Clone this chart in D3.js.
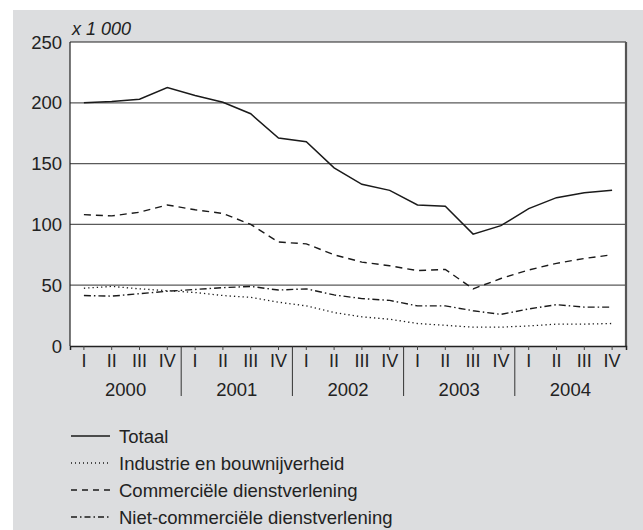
<!DOCTYPE html>
<html>
<head>
<meta charset="utf-8">
<script src="https://cdn.jsdelivr.net/npm/d3@7"></script>
<style>
  body { margin: 0; background: #fff; }
  svg { display: block; font-family: "Liberation Sans", Arial, sans-serif; }
</style>
</head>
<body>
<svg id="chart" width="643" height="530"></svg>
<script>
// data
var years = ["2000", "2001", "2002", "2003", "2004"];
var quarters = ["I", "II", "III", "IV"];
var yTicks = [0, 50, 100, 150, 200, 250];

var totaal = [200, 201, 203, 212.5, 206, 200.5, 191, 171, 168, 146.5, 133, 128, 116, 115, 92, 99, 113, 122, 126, 128];
var industrie = [47.5, 49, 47, 45.5, 44, 41.5, 40, 36, 33, 27.5, 24, 22, 18.5, 17, 15.5, 15.5, 16.5, 18, 18, 18.5];
var commercieel = [108, 107, 110, 116, 112, 109, 100, 85.5, 84, 75, 69, 66, 62, 63, 47, 55.5, 62.5, 68, 72, 75];
var nietCommercieel = [41.5, 41, 43, 45, 46.5, 48, 49, 46, 47, 42, 39, 37.5, 33, 33, 29, 26, 30.5, 34, 32, 32];

var series = [
  { name: "Totaal", values: totaal, dash: null, legendDash: null, width: 1.5 },
  { name: "Industrie en bouwnijverheid", values: industrie, dash: "1.3,3", legendDash: "1,3", width: 1.3 },
  { name: "Commerciële dienstverlening", values: commercieel, dash: "7,5", legendDash: "6,5", width: 1.4 },
  { name: "Niet-commerciële dienstverlening", values: nietCommercieel, dash: "7,3,1.5,3", legendDash: "6,3,1.5,3", width: 1.4 }
];

var periods = [];
years.forEach(function (yr) {
  quarters.forEach(function (q) { periods.push(yr + "-" + q); });
});

var svg = d3.select("#chart");

svg.append("rect")
  .attr("x", 13).attr("y", 10)
  .attr("width", 630).attr("height", 520)
  .attr("fill", "#dcdddf");

var plotL = 70, plotR = 626, plotT = 42, plotB = 346;

var x = d3.scaleBand().domain(periods).range([plotL, plotR]);
var y = d3.scaleLinear().domain([0, 250]).range([plotB, plotT]);

svg.append("rect")
  .attr("x", plotL).attr("y", plotT)
  .attr("width", plotR - plotL).attr("height", plotB - plotT)
  .attr("fill", "#fff");

// gridlines
svg.append("g")
  .selectAll("line")
  .data(yTicks.filter(function (d) { return d > 0 && d < 250; }))
  .enter()
  .append("line")
  .attr("x1", plotL).attr("x2", plotR)
  .attr("y1", function (d) { return y(d); })
  .attr("y2", function (d) { return y(d); })
  .attr("stroke", "#5a5a5a")
  .attr("stroke-width", 1.2);

// frame
svg.append("line").attr("x1", plotL).attr("x2", plotR).attr("y1", plotT).attr("y2", plotT)
  .attr("stroke", "#222").attr("stroke-width", 1.2);
svg.append("line").attr("x1", plotL).attr("x2", plotL).attr("y1", plotT).attr("y2", plotB)
  .attr("stroke", "#222").attr("stroke-width", 1.2);
svg.append("line").attr("x1", plotR).attr("x2", plotR).attr("y1", plotT).attr("y2", plotB + 1)
  .attr("stroke", "#555").attr("stroke-width", 2.2);

// y axis labels
svg.append("g")
  .selectAll("text")
  .data(yTicks)
  .enter()
  .append("text")
  .attr("x", plotL - 8)
  .attr("y", function (d) { return y(d); })
  .attr("dy", "0.36em")
  .attr("text-anchor", "end")
  .attr("font-size", 18.5)
  .attr("fill", "#222")
  .text(function (d) { return d; });

svg.append("text")
  .attr("x", 72).attr("y", 35)
  .attr("font-size", 18)
  .attr("font-style", "italic")
  .attr("fill", "#222")
  .text("x 1 000");

// x axis
var xAxis = d3.axisBottom(x).tickSize(4).tickFormat(function (d) { return d.split("-")[1]; });
var gx = svg.append("g")
  .attr("transform", "translate(0," + plotB + ")")
  .call(xAxis);
gx.select(".domain").attr("stroke", "#222").attr("stroke-width", 1.5);
gx.selectAll(".tick line").attr("stroke", "#444");
gx.selectAll(".tick text")
  .attr("y", 8)
  .attr("font-size", 18)
  .attr("font-family", "'Liberation Sans', Arial, sans-serif")
  .attr("fill", "#222");

// year separators and labels
var bw = x.bandwidth();
svg.append("g")
  .selectAll("line")
  .data(years.slice(1))
  .enter()
  .append("line")
  .attr("x1", function (d) { return x(d + "-I"); })
  .attr("x2", function (d) { return x(d + "-I"); })
  .attr("y1", plotB).attr("y2", 396)
  .attr("stroke", "#333").attr("stroke-width", 1);

svg.append("g")
  .selectAll("text")
  .data(years)
  .enter()
  .append("text")
  .attr("x", function (d) { return x(d + "-I") + bw * 2; })
  .attr("y", 396)
  .attr("text-anchor", "middle")
  .attr("font-size", 18.5)
  .attr("fill", "#222")
  .text(function (d) { return d; });

// lines
var line = d3.line()
  .x(function (d, i) { return x(periods[i]) + bw / 2; })
  .y(function (d) { return y(d); });

svg.append("g")
  .selectAll("path")
  .data(series)
  .enter()
  .append("path")
  .attr("d", function (d) { return line(d.values); })
  .attr("fill", "none")
  .attr("stroke", "#1a1a1a")
  .attr("stroke-width", function (d) { return d.width; })
  .attr("stroke-dasharray", function (d) { return d.dash; });

// legend
var legend = svg.append("g")
  .selectAll("g")
  .data(series)
  .enter()
  .append("g")
  .attr("transform", function (d, i) { return "translate(71," + (436 + i * 27) + ")"; });

legend.append("line")
  .attr("x1", 0).attr("x2", 39)
  .attr("y1", 0).attr("y2", 0)
  .attr("stroke", "#1a1a1a")
  .attr("stroke-width", function (d) { return d.width; })
  .attr("stroke-dasharray", function (d) { return d.legendDash; });

legend.append("text")
  .attr("x", 48)
  .attr("dy", "0.36em")
  .attr("font-size", 18.5)
  .attr("fill", "#222")
  .text(function (d) { return d.name; });
</script>
</body>
</html>
